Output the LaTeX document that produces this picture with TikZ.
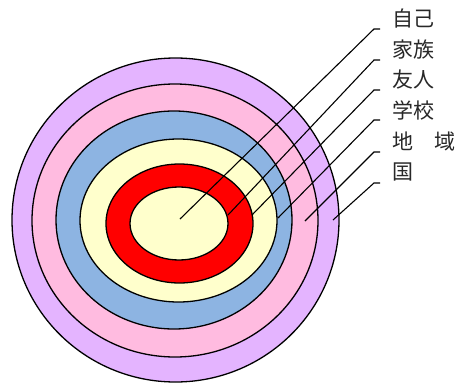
\documentclass[tikz,border=0pt]{standalone}
\usepackage{fontspec}
\newfontfamily\cjk{Noto Sans CJK JP}
\definecolor{cpurple}{RGB}{228,180,255}
\definecolor{cpink}{RGB}{255,187,224}
\definecolor{cblue}{RGB}{141,180,226}
\definecolor{cyellow}{RGB}{255,255,204}
\definecolor{cred}{RGB}{255,0,0}
\definecolor{ctext}{RGB}{40,40,40}
\tikzset{
  ring/.style={draw=black, line width=1.3pt},
  leader/.style={draw=black, line width=1.1pt},
  lbl/.style={anchor=west, inner sep=0pt, text=ctext, font=\cjk\fontsize{21}{21}\selectfont}
}
\begin{document}
\begin{tikzpicture}[x=1pt,y=-1pt]
\useasboundingbox (0,0) rectangle (456,383);
\fill[white] (0,0) rectangle (456,383);
% rings
\path[ring, fill=cpurple] (175.5,220) ellipse [x radius=163.5pt, y radius=162pt];
\path[ring, fill=cpink] (175,220.5) ellipse [x radius=143pt, y radius=136.5pt];
\path[ring, fill=cblue] (174,220) ellipse [x radius=118pt, y radius=109pt];
\path[ring, fill=cyellow] (178.5,220.5) ellipse [x radius=98.5pt, y radius=81.5pt];
\path[ring, fill=cred] (179.5,223.5) ellipse [x radius=73.5pt, y radius=59.5pt];
\path[ring, fill=cyellow] (179,223.5) ellipse [x radius=49pt, y radius=36.5pt];
% labels
\node[lbl] (l1) at (392,19) {自己};
\node[lbl] (l2) at (392,50) {家族};
\node[lbl] (l3) at (392,80) {友人};
\node[lbl] (l4) at (392,110) {学校};
\node[lbl] (l5) at (392,142) {地　域};
\node[lbl] (l6) at (392,172) {国};
% leader points
\coordinate (a1) at (180,219);   \coordinate (b1) at (374,29);  \coordinate (c1) at (380,29);
\coordinate (a2) at (228,215);   \coordinate (b2) at (374,60);  \coordinate (c2) at (380,60);
\coordinate (a3) at (252,215);   \coordinate (b3) at (374,90);  \coordinate (c3) at (380,90);
\coordinate (a4) at (278,218);   \coordinate (b4) at (374,120); \coordinate (c4) at (380,120);
\coordinate (a5) at (305,221);   \coordinate (b5) at (374,152); \coordinate (c5) at (380,152);
\coordinate (a6) at (333,220);   \coordinate (b6) at (374,183); \coordinate (c6) at (380,183);
\foreach \i in {1,...,6} {
  \path[leader] (a\i) -- (b\i) -- (c\i);
}
\end{tikzpicture}
\end{document}
